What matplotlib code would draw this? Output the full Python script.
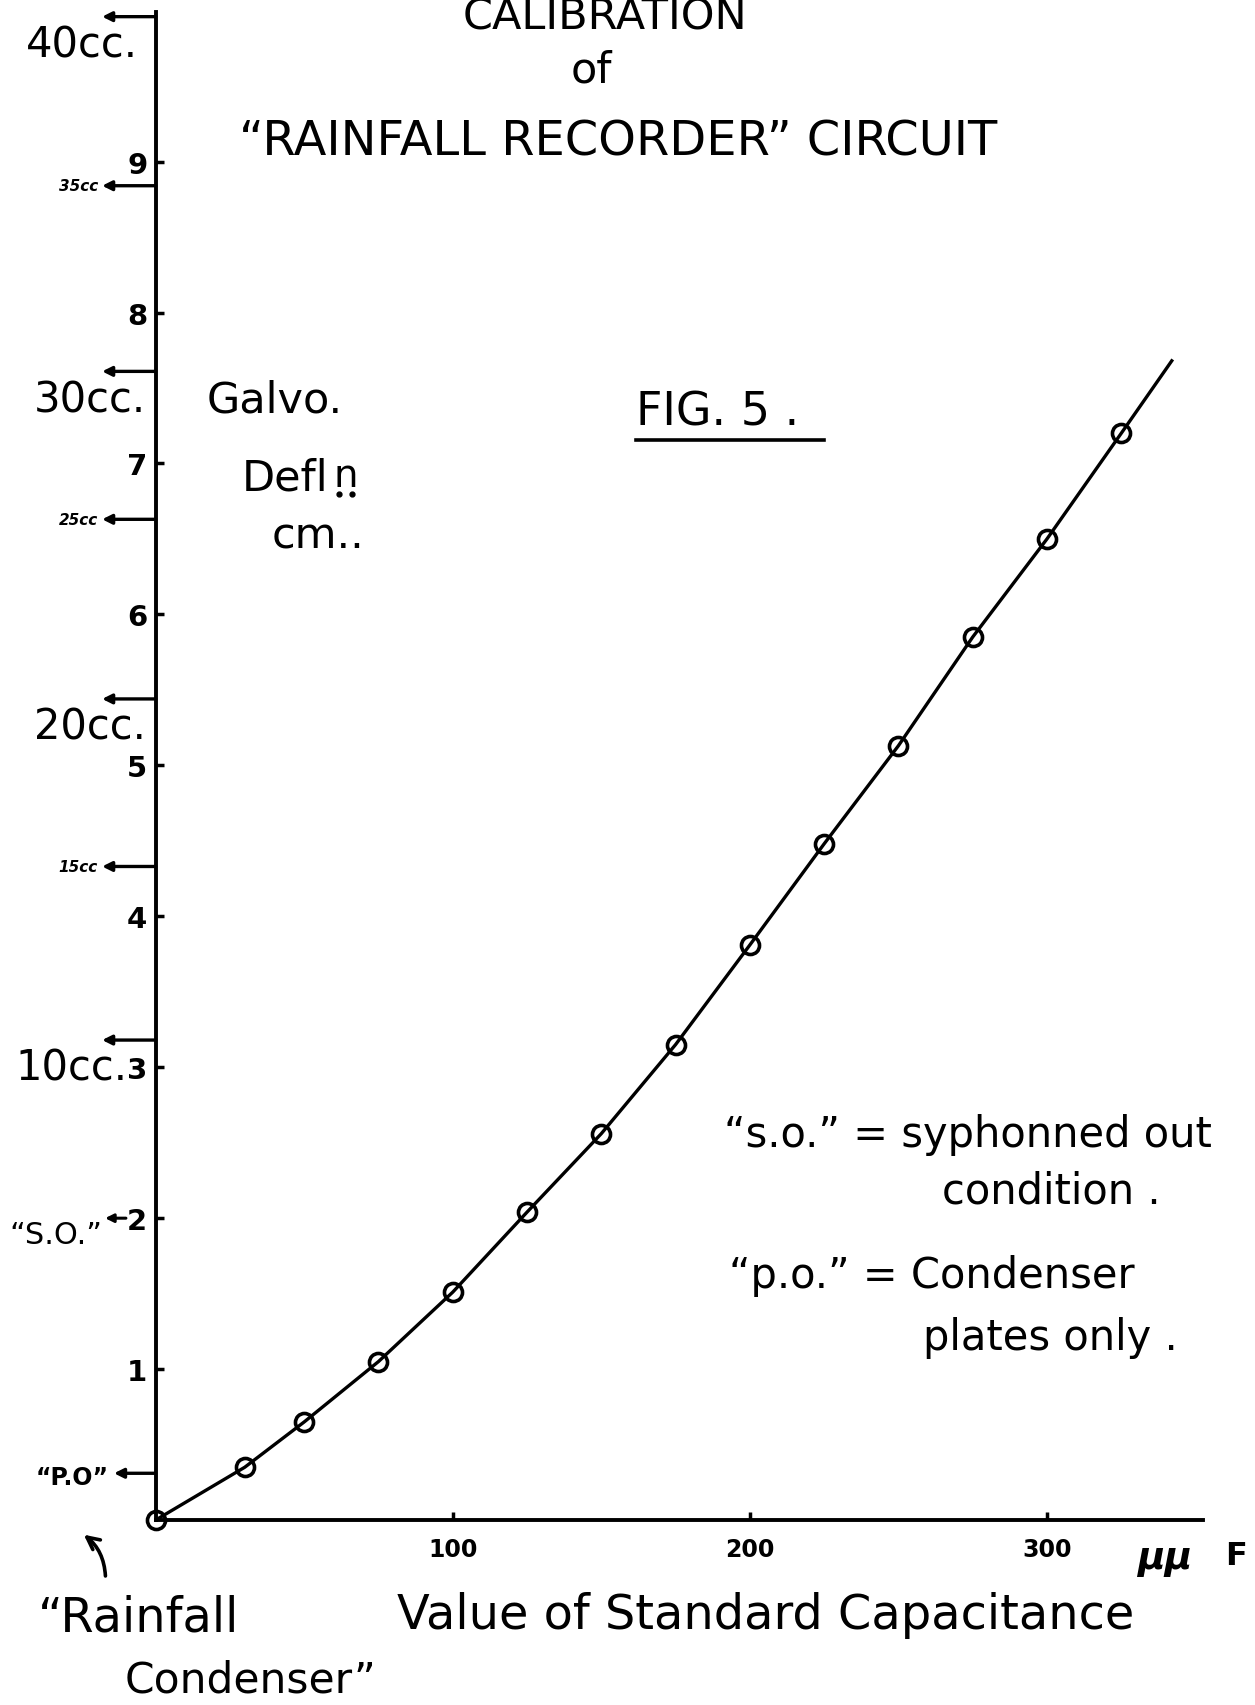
import matplotlib
matplotlib.use("Agg")
import matplotlib.pyplot as plt

plt.rcParams['font.family'] = ['DejaVu Sans']

# ------------------------------------------------------------------
# donnees
# ------------------------------------------------------------------
cap_pf   = [0, 30, 50, 75, 100, 125, 150, 175, 200, 225, 250, 275, 300, 325]
defl_cm  = [0.0, 0.35, 0.65, 1.05, 1.51, 2.04, 2.56, 3.15, 3.81, 4.48, 5.13, 5.85, 6.50, 7.20]
# prolongement du trace au-dela du dernier point
curve_x = cap_pf + [342]
curve_y = defl_cm + [7.68]

x_ticks = [100, 200, 300]
y_ticks = [1, 2, 3, 4, 5, 6, 7, 8, 9]

cc_levels = [9.96, 8.84, 7.61, 6.63, 5.44, 4.33, 3.18]
cc_labels = ['40cc.', '35cc', '30cc.', '25cc', '20cc.', '15cc', '10cc.']
cc_big    = [True, False, True, False, True, False, True]
cc_dx     = [-13, -3, -7, -3, -7, -3, -20]   # decalage horizontal des etiquettes (pt)

so_level = 2.0
po_level = 0.31

# ------------------------------------------------------------------
# figure
# ------------------------------------------------------------------
fig = plt.figure(figsize=(12.55, 17.06), dpi=100)
ax = fig.add_axes([0.1240, 0.1084, 0.8343, 0.8839])
ax.set_xlim(0, 352.4)
ax.set_ylim(0, 9.99)

for s in ['top', 'right']:
    ax.spines[s].set_visible(False)
for s in ['left', 'bottom']:
    ax.spines[s].set_linewidth(2.8)

ax.set_xticks(x_ticks)
ax.set_xticklabels([str(v) for v in x_ticks], fontsize=17, fontweight='bold')
ax.set_yticks(y_ticks)
ax.set_yticklabels([str(v) for v in y_ticks], fontsize=21, fontweight='bold')
ax.tick_params(axis='both', direction='in', length=6, width=2.5)
ax.tick_params(axis='x', pad=12)
ax.tick_params(axis='y', pad=6)

ax.plot(curve_x, curve_y, color='black', linewidth=2.4, zorder=3)
ax.plot(cap_pf, defl_cm, linestyle='none', marker='o', markersize=13,
        markerfacecolor='none', markeredgecolor='black', markeredgewidth=2.6,
        zorder=4, clip_on=False)

# fleches des volumes (cc)
arrow_len = 18
for lvl, lab, big, dx in zip(cc_levels, cc_labels, cc_big, cc_dx):
    ax.annotate('', xy=(-arrow_len, lvl), xytext=(0, lvl),
                arrowprops=dict(arrowstyle='-|>', color='black', lw=2.4,
                                mutation_scale=14, shrinkA=0, shrinkB=0),
                annotation_clip=False)
    if big:
        ax.annotate(lab, xy=(0, lvl), xytext=(dx, -20),
                    textcoords='offset points', fontsize=30,
                    ha='right', va='center', annotation_clip=False)
    else:
        ax.annotate(lab, xy=(-arrow_len, lvl), xytext=(dx, 0),
                    textcoords='offset points', fontsize=11,
                    fontweight='bold', fontstyle='italic',
                    ha='right', va='center', annotation_clip=False)

# "S.O." et "P.O."
ax.annotate('', xy=(-17, so_level), xytext=(-10, so_level),
            arrowprops=dict(arrowstyle='-|>', color='black', lw=2.2,
                            mutation_scale=12, shrinkA=0, shrinkB=0),
            annotation_clip=False)
ax.annotate('\u201cS.O.\u201d', xy=(-17, so_level), xytext=(-2, -12),
            textcoords='offset points', fontsize=22,
            ha='right', va='center', annotation_clip=False)

ax.annotate('', xy=(-14, po_level), xytext=(0, po_level),
            arrowprops=dict(arrowstyle='-|>', color='black', lw=2.4,
                            mutation_scale=14, shrinkA=0, shrinkB=0),
            annotation_clip=False)
ax.annotate('\u201cP.O\u201d', xy=(-14, po_level), xytext=(-4, -3),
            textcoords='offset points', fontsize=17, fontweight='bold',
            ha='right', va='center', annotation_clip=False)

# ------------------------------------------------------------------
# textes
# ------------------------------------------------------------------
fig.text(0.482, 0.990, 'CALIBRATION', fontsize=31, ha='center', va='center')
fig.text(0.471, 0.9585, 'of', fontsize=31, ha='center', va='center')
fig.text(0.4926, 0.917, '\u201cRAINFALL RECORDER\u201d CIRCUIT', fontsize=34.5,
         ha='center', va='center')

fig.text(0.507, 0.7577, 'FIG. 5 .', fontsize=33, ha='left', va='center')
fig.add_artist(plt.Line2D([0.507, 0.6565], [0.7417, 0.7417],
                          color='black', linewidth=2.6))

fig.text(0.1648, 0.7653, 'Galvo.', fontsize=31, ha='left', va='center')
fig.text(0.1925, 0.7194, 'Defl', fontsize=31, ha='left', va='center')
fig.text(0.2655, 0.7210, 'n', fontsize=28, ha='left', va='center')
fig.add_artist(plt.Line2D([0.2700, 0.2805], [0.7098, 0.7098], linestyle='none',
                          marker='o', markersize=3.5, color='black'))
fig.text(0.2168, 0.6856, 'cm..', fontsize=31, ha='left', va='center')

fig.text(0.5768, 0.3348, '\u201cs.o.\u201d = syphonned out', fontsize=30,
         ha='left', va='center')
fig.text(0.7502, 0.3017, 'condition .', fontsize=30, ha='left', va='center')
fig.text(0.5811, 0.2519, '\u201cp.o.\u201d = Condenser', fontsize=30,
         ha='left', va='center')
fig.text(0.7355, 0.2156, 'plates only .', fontsize=30, ha='left', va='center')

fig.text(0.3166, 0.0529, 'Value of Standard Capacitance', fontsize=34.5,
         ha='left', va='center')
fig.text(0.9063, 0.0860, '\u00b5\u00b5', fontsize=27, fontstyle='italic',
         fontweight='bold', ha='left', va='center')
fig.text(0.9760, 0.0875, 'F', fontsize=23, fontweight='bold',
         ha='left', va='center')

fig.text(0.0304, 0.0517, '\u201cRainfall', fontsize=34.5, ha='left', va='center')
fig.text(0.0997, 0.0147, 'Condenser\u201d', fontsize=30.5, ha='left', va='center')
fig.add_artist(matplotlib.patches.FancyArrowPatch(
    (0.0841, 0.074), (0.065, 0.1008), transform=fig.transFigure,
    arrowstyle='->', mutation_scale=22, lw=2.6, color='black',
    connectionstyle='arc3,rad=0.25'))

fig.savefig("out.png", dpi=100)
plt.close(fig)
